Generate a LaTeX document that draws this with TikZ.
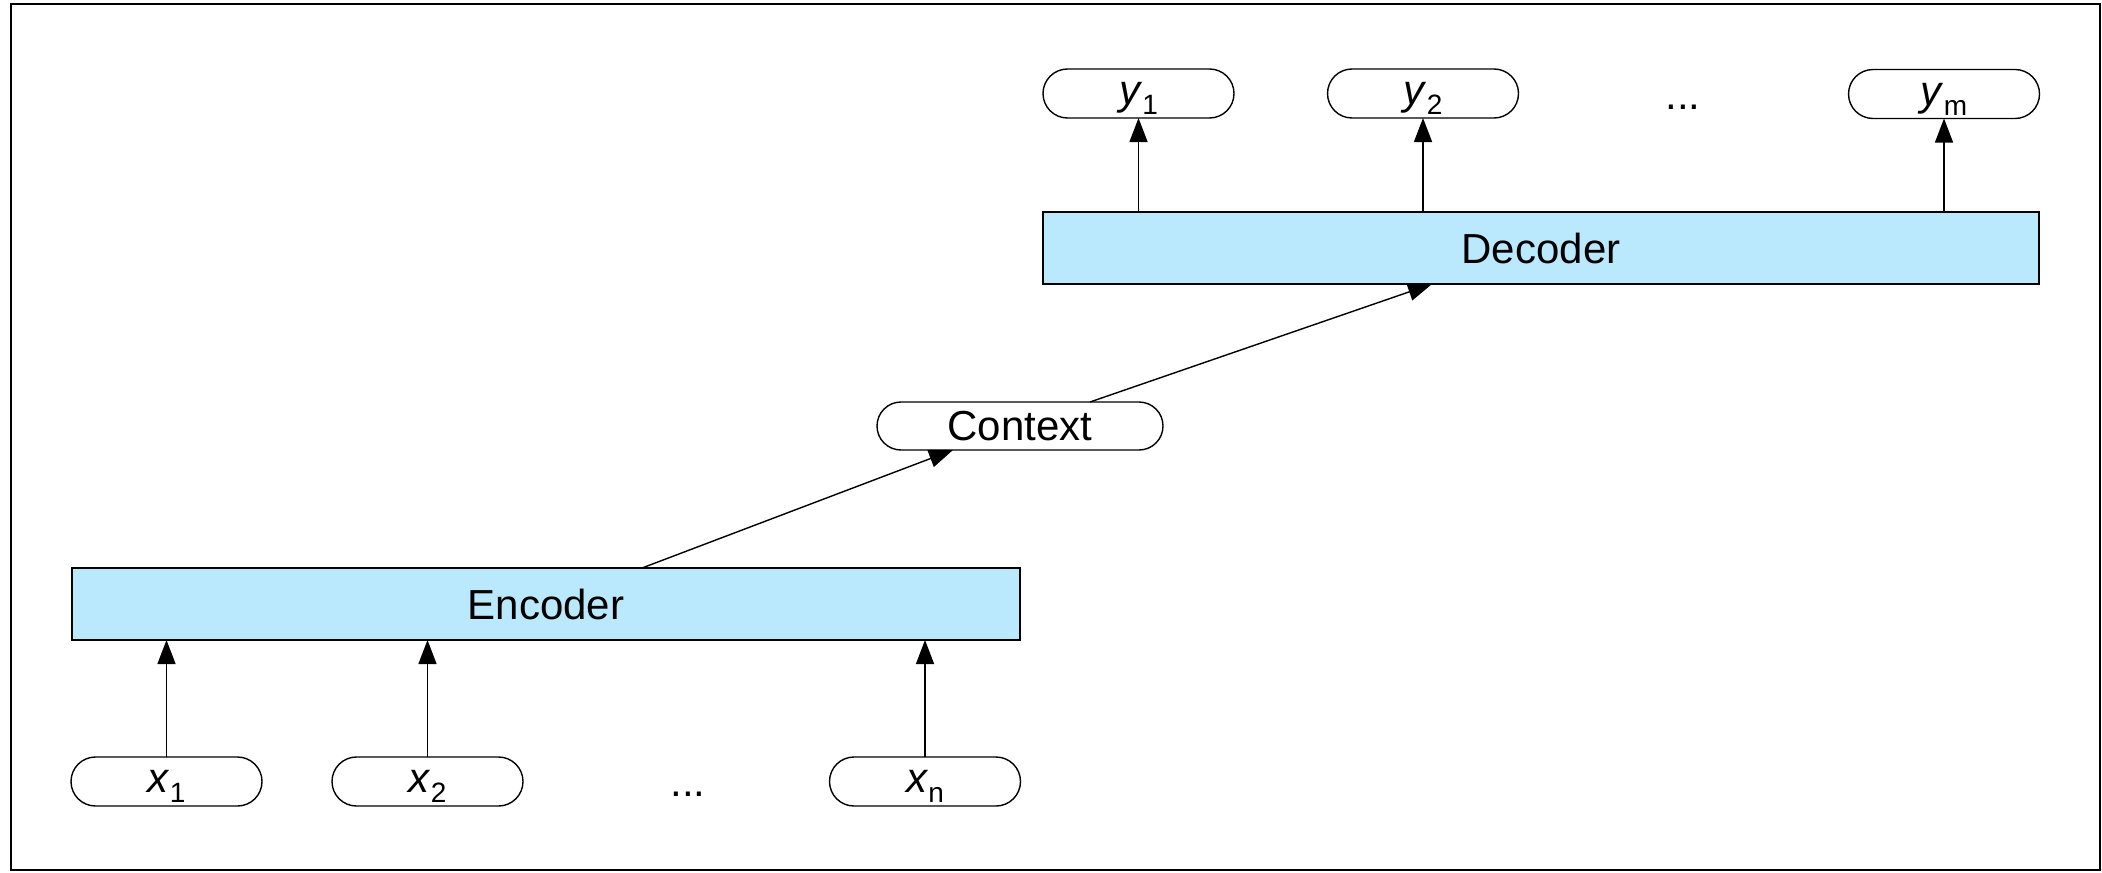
\documentclass[tikz,border=0pt]{standalone}
\usepackage{fontspec}
\setmainfont{Liberation Sans}
\usetikzlibrary{arrows.meta,calc}

\definecolor{boxblue}{RGB}{186,232,252}
% italic letter with a lowered upright index; only the letter's height counts for centring
\newcommand\seqlbl[2]{\raisebox{0pt}[\height][0pt]{\textit{#1}}\raisebox{-5pt}[0pt][0pt]{\fontsize{14}{14}\selectfont #2}}

\begin{document}
\begin{tikzpicture}[
  x=0.5pt, y=-0.5pt,
  font=\fontsize{21}{24}\selectfont,
  token/.style={draw, line width=0.7pt, rounded corners=12.25pt,
    minimum width=95.5pt, minimum height=24.5pt, inner sep=0pt, outer sep=0pt},
  block/.style={draw, line width=0.7pt, fill=boxblue,
    minimum height=36pt, inner sep=0pt, outer sep=0pt},
  arr/.style={line width=0.7pt, -{Triangle[length=12pt,width=9pt]}},
]
\useasboundingbox (0,0) rectangle (2102,872);
\draw[line width=1pt] (11,4) rectangle (2100,870);

% encoder side
\node[block, minimum width=474pt] (enc) at (546,604) {Encoder};
\node[token] (x1) at (166.5,781.5) {\seqlbl{x}{1}};
\node[token] (x2) at (427.5,781.5) {\seqlbl{x}{2}};
\node[token] (xn) at (925,781.5) {\seqlbl{x}{n}};
\node[anchor=base, inner sep=0pt] (xdots) at (688,796) {...};

% context
\node[token, minimum width=143pt, minimum height=24pt, rounded corners=12pt] (ctx) at (1020,426) {Context};

% decoder side
\node[block, minimum width=498pt] (dec) at (1541,248) {Decoder};
\node[token] (y1) at (1138.5,93.5) {\seqlbl{y}{1}};
\node[token] (y2) at (1423,93.5) {\seqlbl{y}{2}};
\node[token] (ym) at (1944,94) {\seqlbl{y}{m}};
\node[anchor=base, inner sep=0pt] (ydots) at (1683,110) {...};

% connectors
\foreach \t in {x1,x2,xn}
  \draw[arr] (\t.north) -- (\t.north |- enc.south);
\foreach \t in {y1,y2,ym}
  \draw[arr] (\t.south |- dec.north) -- (\t.south);
\draw[arr] ([xshift=48pt]enc.north) -- ([xshift=-33.5pt]ctx.south);
\draw[arr] ([xshift=35pt]ctx.north) -- ([xshift=-54.5pt]dec.south);
\end{tikzpicture}
\end{document}
